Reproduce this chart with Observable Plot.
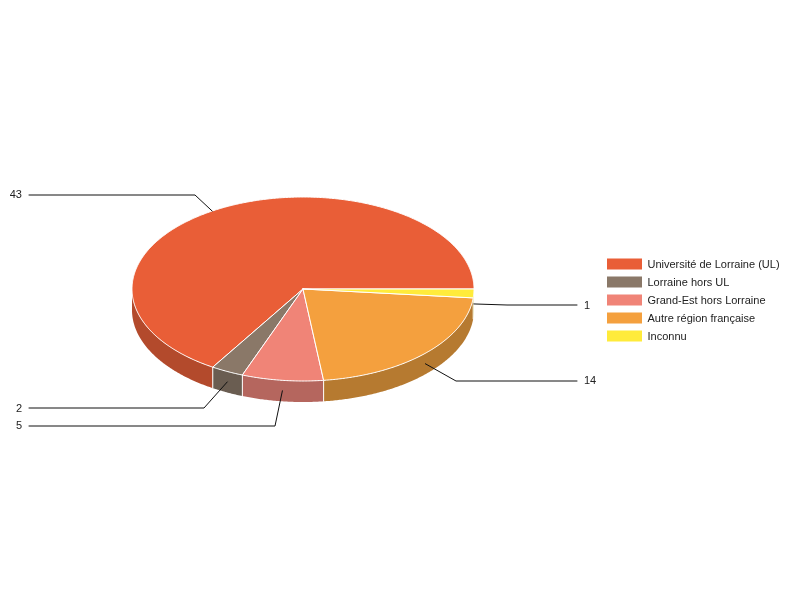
<!DOCTYPE html>
<html>
<head>
<meta charset="utf-8">
<script src="https://cdn.jsdelivr.net/npm/d3@7"></script>
<script src="https://cdn.jsdelivr.net/npm/@observablehq/plot@0.6"></script>
<style>html,body{margin:0;padding:0;background:#fff}svg{display:block;will-change:transform}</style>
</head>
<body>
<div id="chart"></div>
<script>
const categories = ["Université de Lorraine (UL)", "Lorraine hors UL", "Grand-Est hors Lorraine", "Autre région française", "Inconnu"];
const values = [43, 2, 5, 14, 1];
const topColors = ["#E95E37", "#8A7868", "#F08477", "#F4A03E", "#FFEB3B"];
const sideColors = ["#B34A2C", "#6A5D51", "#B5665E", "#B67A30", "#BDAE2C"];

// layout of the pie
const cx = 302.5, cy = 288.5, rx = 171, ry = 92, depth = 21;
// leader layout per slice
const elbowX = [194.5, 203.5, 274.5, 455.5, 506.5];
const shelfY = [194.5, 407.5, 425.5, 380.5, 304.5];
const shelfEndX = [28.5, 28.5, 28.5, 576.5, 576.5];
const labelX = [21.5, 21.5, 21.5, 583.5, 583.5];
const labelY = [194, 408, 425, 380, 305];
const anchorShift = [3, 0, 0, 0, 0];

const total = d3.sum(values);
const cum = d3.cumsum(values);
const slices = categories.map((name, i) => ({
  name, value: values[i], i,
  a0: ((i ? cum[i - 1] : 0) / total) * 360,
  a1: (cum[i] / total) * 360
}));
const px = t => cx + rx * Math.cos(t * Math.PI / 180);
const py = (t, dz = 0) => cy - ry * Math.sin(t * Math.PI / 180) + dz;
const arc = (a0, a1, dz = 0) => {
  const n = Math.max(2, Math.ceil((a1 - a0) * 2));
  return d3.range(n + 1).map(k => {
    const t = a0 + (a1 - a0) * k / n;
    return {x: px(t), y: py(t, dz)};
  });
};
const topPath = s => [{x: cx, y: cy}, ...arc(s.a0, s.a1), {x: cx, y: cy}].map(p => ({...p, name: s.name}));
const wallPath = s => {
  const a0 = Math.max(s.a0, 180), a1 = s.a1;
  if (a1 <= 180) return [];
  return [...arc(a0, a1), ...arc(a0, a1, depth).reverse()];
};
const dividers = slices.filter(s => s.a1 > 180 && s.a1 < 359).map(s => [
  {x: px(s.a1), y: py(s.a1)}, {x: px(s.a1), y: py(s.a1, depth)}
]);
const leaders = slices.map((s, i) => {
  const t = (s.a0 + s.a1) / 2 + anchorShift[i];
  const inWall = t > 180;
  return [
    {x: px(t), y: py(t, inWall ? depth / 2 : 0)},
    {x: elbowX[i], y: shelfY[i]},
    {x: shelfEndX[i], y: shelfY[i]}
  ];
});
const legendTop = 258.5, legendStep = 18, swatchH = 11, legendTextY = 264, legendTextX = 647;
const legend = categories.map((name, i) => ({
  name,
  y1: legendTop + i * legendStep,
  y2: legendTop + i * legendStep + swatchH,
  yc: legendTextY + i * legendStep
}));
const labels = slices.map((s, i) => ({text: String(s.value), x: labelX[i], y: labelY[i], anchor: labelX[i] < 100 ? "end" : "start"}));

const textOpts = {fontFamily: "'Liberation Sans', Arial, sans-serif", fontSize: 11, fill: "#222"};

const chart = Plot.plot({
  width: 800, height: 600,
  marginTop: 0, marginRight: 0, marginBottom: 0, marginLeft: 0,
  style: {background: "transparent"},
  x: {domain: [0, 800], range: [0, 800], axis: null},
  y: {domain: [0, 600], range: [0, 600], axis: null},
  color: {domain: categories, range: topColors},
  marks: [
    ...slices.map(s => Plot.line(wallPath(s), {x: "x", y: "y", fill: sideColors[s.i], stroke: "none"})),
    ...dividers.map(d => Plot.line(d, {x: "x", y: "y", stroke: "#fff", strokeWidth: 1})),
    ...slices.map(s => Plot.line(topPath(s), {x: "x", y: "y", z: "name", fill: "name", stroke: "#fff", strokeWidth: 1, strokeLinejoin: "round"})),
    ...leaders.map(l => Plot.line(l, {x: "x", y: "y", stroke: "#111", strokeWidth: 1})),
    Plot.text(labels.filter(d => d.anchor === "end"), {x: "x", y: "y", text: "text", textAnchor: "end", ...textOpts}),
    Plot.text(labels.filter(d => d.anchor === "start"), {x: "x", y: "y", text: "text", textAnchor: "start", ...textOpts}),
    Plot.rect(legend, {x1: () => 607, x2: () => 642, y1: "y1", y2: "y2", fill: "name"}),
    Plot.text(legend, {x: () => legendTextX, y: "yc", text: "name", textAnchor: "start", ...textOpts})
  ]
});
document.getElementById("chart").appendChild(chart);
</script>
</body>
</html>
